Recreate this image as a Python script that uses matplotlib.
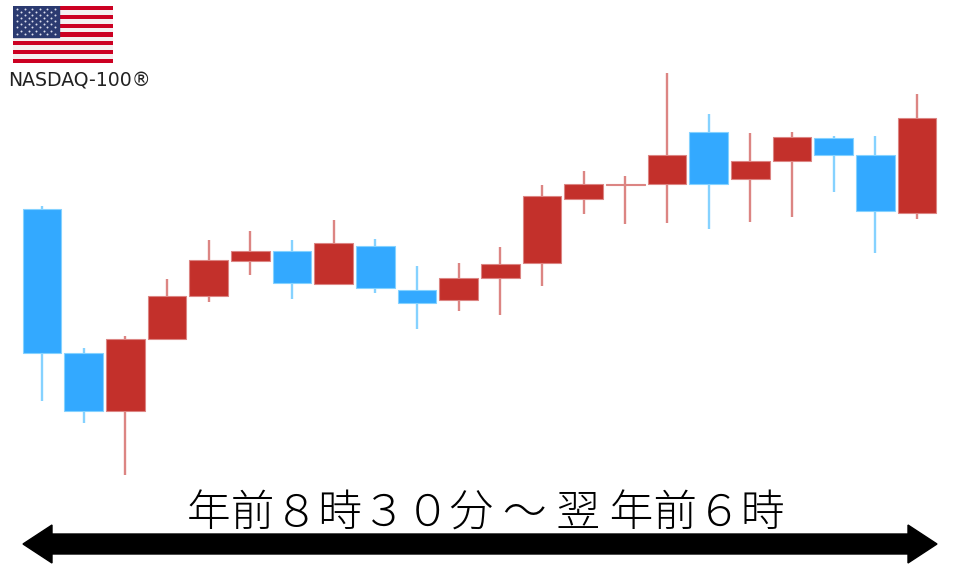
import numpy as np
import matplotlib
matplotlib.use('Agg')
import matplotlib.pyplot as plt
from matplotlib.patches import Polygon

opens = [358, 214, 156, 228, 271, 306, 316, 283, 321, 277, 267, 289, 304, 368, 382.5, 383, 435, 388, 406, 429, 412, 354]
closes = [214, 156, 228, 271, 307, 316, 284, 324, 279, 264, 289, 303, 371, 383, 383.5, 412, 383, 406, 430, 412, 356, 449]
highs = [361, 219, 231, 288, 327, 336, 327, 347, 328, 301, 304, 320, 382, 396, 391, 494, 453, 434, 435, 431, 431, 473]
lows = [166, 144, 92, 228, 265, 292, 268, 283, 274, 238, 256, 252, 281, 353, 343, 344, 338, 345, 350, 375, 314, 348]

title = '年前８時３０分 ～ 翌 年前６時'
index_name = 'NASDAQ-100®'

BLUE = '#33A9FF'
RED = '#C3302B'
BLUE_PALE = '#85D2FF'
RED_PALE = '#DC8583'

plt.rcParams['font.family'] = ['Noto Sans CJK JP', 'DejaVu Sans']

fig = plt.figure(figsize=(9.6, 5.67), dpi=100)
ax = fig.add_axes([0, 0, 1, 1])
ax.set_xlim(-1.008, 22.03)
ax.set_ylim(0, 567)
ax.axis('off')

for i in range(len(opens)):
    down = closes[i] < opens[i]
    face = BLUE if down else RED
    pale = BLUE_PALE if down else RED_PALE
    ax.vlines(i, lows[i], highs[i], color=pale, linewidth=1.7, zorder=1)
    bottom = min(opens[i], closes[i])
    height = abs(opens[i] - closes[i])
    ax.bar(i, height, width=0.93, bottom=bottom, color=face, edgecolor=pale,
           linewidth=0.8, zorder=2)

# the double arrow under the candles
arrow = fig.add_axes([0, 0, 1, 1], facecolor='none')
arrow.set_xlim(0, 960)
arrow.set_ylim(567, 0)
arrow.axis('off')
arrow.add_patch(Polygon([(23, 544), (52, 525), (52, 534), (908, 534), (908, 525),
                         (937, 544), (908, 563), (908, 554), (52, 554), (52, 563)],
                        closed=True, color='black'))
arrow.text(486, 514, title, fontsize=31.5, ha='center', va='center', color='black',
           fontweight='light')
arrow.text(79, 81, index_name, fontsize=13.6, ha='center', va='center', color='#222222',
           family=['DejaVu Sans'])

# flag
flag = fig.add_axes([13/960, 1 - 63/567, 100/960, 57/567])
stripes = np.array([[i % 2] for i in range(13)])
flag.imshow(stripes, cmap=matplotlib.colors.ListedColormap(['#CC0022', '#F4F0F0']),
            extent=(0, 100, 13, 0), aspect='auto', interpolation='nearest')
flag.fill_between([0, 46], 0, 7, color='#2B3A70', zorder=2)
for row in range(9):
    cols = 6 if row % 2 == 0 else 5
    off = 4 if row % 2 == 0 else 8
    xs = [off + c * 7.6 for c in range(cols)]
    flag.scatter(xs, [0.7 + row * 0.7] * cols, s=2, color='#DDE0EE', linewidths=0, zorder=3)
flag.set_xlim(0, 100)
flag.set_ylim(13, 0)
flag.axis('off')

fig.savefig('out.png', dpi=100)
